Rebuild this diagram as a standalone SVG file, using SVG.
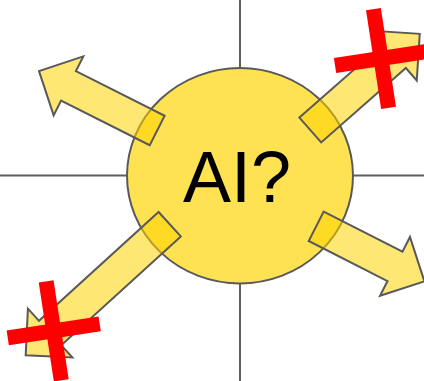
<svg xmlns="http://www.w3.org/2000/svg" width="424" height="381" viewBox="0 0 424 381">
  <style>
    .axis { stroke: #5f5f5f; stroke-width: 2; fill: none; }
    .arrow { fill: #FFD400; fill-opacity: 0.55; stroke: #595959; stroke-width: 2; stroke-linejoin: miter; }
    .bar { fill: #FF0000; }
    .label { font-family: "Liberation Sans", Arial, sans-serif; font-size: 72px; fill: #000000; }
  </style>
  <g id="connectors">
    <line class="axis" x1="240" y1="0" x2="240" y2="381"/>
    <line class="axis" x1="0" y1="175.5" x2="424" y2="175.5"/>
  </g>
  <g id="ai-node">
    <ellipse cx="240" cy="175.7" rx="113" ry="107.7" fill="#FFE252" stroke="#595959" stroke-width="2"/>
  </g>
  <g id="arrow-upper-left">
    <polygon class="arrow" transform="translate(157.2,130.5) rotate(-153.3)" points="0,-16.5 99.3,-16.5 99.3,-33 132.3,0 99.3,33 99.3,16.5 0,16.5"/>
  </g>
  <g id="arrow-upper-right">
    <polygon class="arrow" transform="translate(310.3,130) rotate(-41.3)" points="0,-16.5 112.7,-16.5 112.7,-33 145.7,0 112.7,33 112.7,16.5 0,16.5"/>
  </g>
  <g id="arrow-lower-right">
    <polygon class="arrow" transform="translate(316.2,226.3) rotate(26.95)" points="0,-16.5 88.4,-16.5 88.4,-33 121.4,0 88.4,33 88.4,16.5 0,16.5"/>
  </g>
  <g id="arrow-lower-left">
    <polygon class="arrow" transform="translate(169.7,224.2) rotate(137.7)" points="0,-16.5 161.7,-16.5 161.7,-33 194.7,0 161.7,33 161.7,16.5 0,16.5"/>
  </g>
  <g id="ai-label">
    <text class="label" x="237" y="201.5" text-anchor="middle">AI?</text>
  </g>
  <defs>
    <g id="cross">
      <rect class="bar" x="-46.5" y="-7.5" width="93" height="15"/>
      <rect class="bar" x="-7.5" y="-50" width="15" height="100"/>
    </g>
  </defs>
  <g id="cross-upper-right">
    <use href="#cross" transform="translate(381,58.5) rotate(-8.7)"/>
  </g>
  <g id="cross-lower-left">
    <use href="#cross" transform="translate(53.7,330.9) rotate(-8.7)"/>
  </g>
</svg>
